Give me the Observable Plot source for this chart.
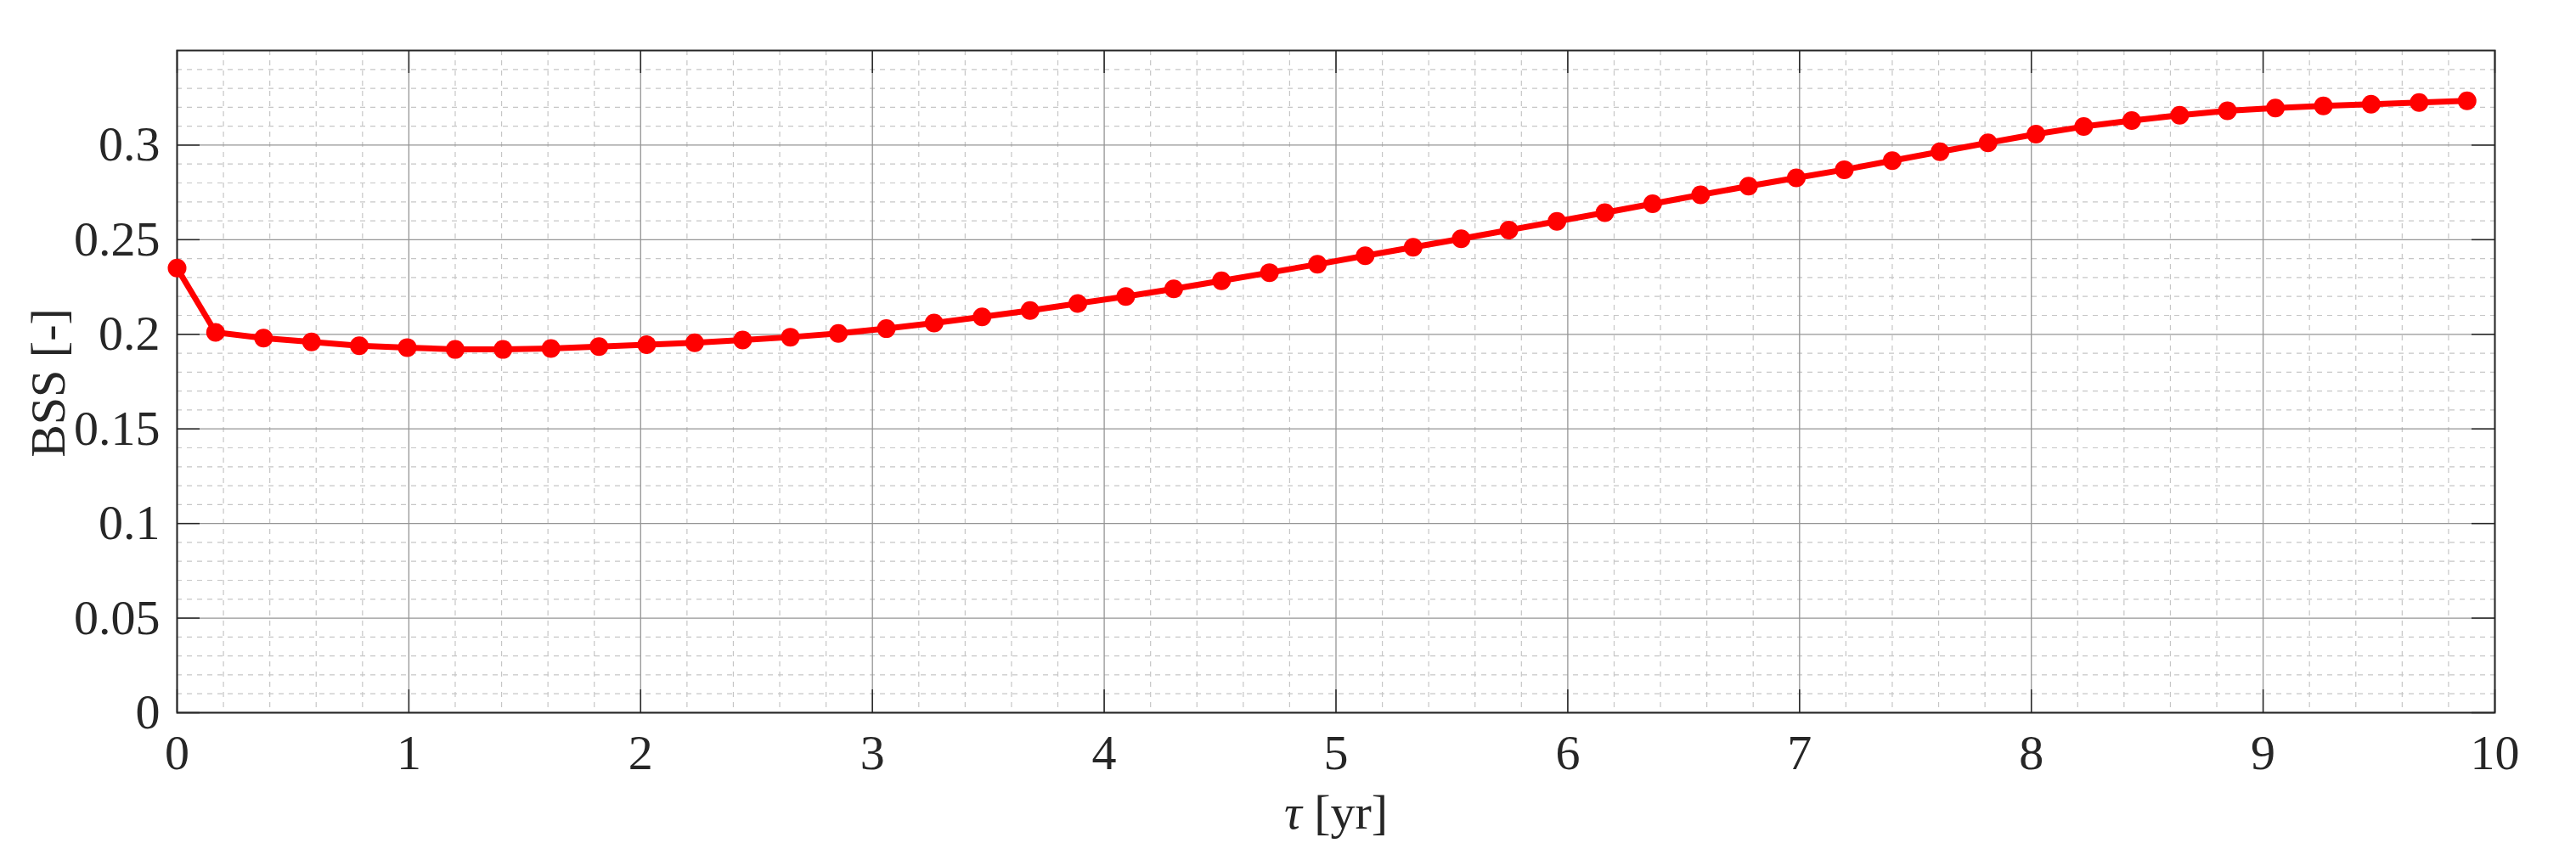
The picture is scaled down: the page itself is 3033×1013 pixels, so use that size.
<!DOCTYPE html>
<html><head><meta charset="utf-8">
<script src="https://cdn.jsdelivr.net/npm/d3@7"></script>
<script src="https://cdn.jsdelivr.net/npm/@observablehq/plot@0.6"></script>
<style>html,body{margin:0;padding:0;background:#fff;} svg text{font-family:"Liberation Serif","Times New Roman",serif;}</style>
</head><body><div id="chart"></div>
<script>
const tau = [0, 0.166, 0.373, 0.580, 0.786, 0.993, 1.200, 1.406, 1.613, 1.820, 2.026, 2.233, 2.440, 2.646, 2.853, 3.060, 3.266, 3.473, 3.680, 3.886, 4.093, 4.300, 4.506, 4.713, 4.920, 5.126, 5.333, 5.540, 5.746, 5.953, 6.160, 6.366, 6.573, 6.780, 6.986, 7.193, 7.400, 7.606, 7.813, 8.020, 8.226, 8.433, 8.640, 8.846, 9.053, 9.260, 9.466, 9.673, 9.880];
const bss = [0.235, 0.201, 0.198, 0.196, 0.194, 0.193, 0.192, 0.192, 0.1925, 0.1935, 0.1945, 0.1955, 0.197, 0.1985, 0.2005, 0.2030, 0.2060, 0.2092, 0.2126, 0.2163, 0.2200, 0.2240, 0.2283, 0.2326, 0.2370, 0.2415, 0.2460, 0.2505, 0.2551, 0.2597, 0.2643, 0.2690, 0.2737, 0.2783, 0.2827, 0.2870, 0.2918, 0.2965, 0.3012, 0.3058, 0.3098, 0.3130, 0.3158, 0.3181, 0.3196, 0.3207, 0.3216, 0.3225, 0.3234];
const xTicks = [0, 1, 2, 3, 4, 5, 6, 7, 8, 9, 10];
const xMinor = [0.2, 0.4, 0.6, 0.8, 1.2, 1.4, 1.6, 1.8, 2.2, 2.4, 2.6, 2.8, 3.2, 3.4, 3.6, 3.8, 4.2, 4.4, 4.6, 4.8, 5.2, 5.4, 5.6, 5.8, 6.2, 6.4, 6.6, 6.8, 7.2, 7.4, 7.6, 7.8, 8.2, 8.4, 8.6, 8.8, 9.2, 9.4, 9.6, 9.8];
const yTicks = [0, 0.05, 0.1, 0.15, 0.2, 0.25, 0.3];
const yMinor = [0.01, 0.02, 0.03, 0.04, 0.06, 0.07, 0.08, 0.09, 0.11, 0.12, 0.13, 0.14, 0.16, 0.17, 0.18, 0.19, 0.21, 0.22, 0.23, 0.24, 0.26, 0.27, 0.28, 0.29, 0.31, 0.32, 0.33, 0.34];
const xLabel = "τ [yr]";
const yLabel = "BSS [-]";

const data = tau.map((t, i) => ({tau: t, bss: bss[i]}));
const W = 3033, H = 1013;
const mL = 208, mR = 96, mT = 59, mB = 174;
const iw = W - mL - mR, ih = H - mT - mB;
const ink = "#262626";
const fs = 58;
const ff = "'Liberation Serif', 'Times New Roman', serif";

const chart = Plot.plot({
  width: W, height: H,
  marginLeft: mL, marginRight: mR, marginTop: mT, marginBottom: mB,
  style: {fontFamily: ff, fontSize: fs + "px", color: ink, background: "#fff"},
  x: {domain: [0, 10]},
  y: {domain: [0, 0.35]},
  marks: [
    Plot.gridX(xMinor, {stroke: "#c6c6c6", strokeOpacity: 1, strokeWidth: 1.2, strokeDasharray: "6,6"}),
    Plot.gridY(yMinor, {stroke: "#c6c6c6", strokeOpacity: 1, strokeWidth: 1.2, strokeDasharray: "6,6"}),
    Plot.gridX(xTicks, {stroke: "#959595", strokeOpacity: 1, strokeWidth: 1.3}),
    Plot.gridY(yTicks, {stroke: "#959595", strokeOpacity: 1, strokeWidth: 1.3}),
    Plot.tickX(xTicks, {x: d => d, stroke: ink, strokeWidth: 1.5, insetTop: ih - 27}),
    Plot.tickX(xTicks, {x: d => d, stroke: ink, strokeWidth: 1.5, insetBottom: ih - 27}),
    Plot.tickY(yTicks, {y: d => d, stroke: ink, strokeWidth: 1.5, insetRight: iw - 27}),
    Plot.tickY(yTicks, {y: d => d, stroke: ink, strokeWidth: 1.5, insetLeft: iw - 27}),
    Plot.frame({stroke: ink, strokeWidth: 2}),
    Plot.axisX({ticks: xTicks, tickSize: 0, tickPadding: 25, tickFormat: d => String(d), fontSize: fs, fontFamily: ff, fill: ink, label: null}),
    Plot.axisY({ticks: yTicks, tickSize: 0, tickPadding: 20, tickFormat: d => String(d), fontSize: fs, fontFamily: ff, fill: ink, label: null}),
    Plot.line(data, {x: "tau", y: "bss", stroke: "#ff0000", strokeWidth: 7}),
    Plot.dot(data, {x: "tau", y: "bss", r: 11, fill: "#ff0000", stroke: "none"}),
    Plot.text([xLabel], {text: d => d, frameAnchor: "bottom", textAnchor: "middle", dy: 136, fontSize: fs, fontFamily: ff, fill: ink}),
    Plot.text([yLabel], {text: d => d, frameAnchor: "left", textAnchor: "middle", lineAnchor: "middle", rotate: -90, fontSize: fs, fontFamily: ff, fill: ink})
  ]
});

const texts = d3.select(chart).selectAll("text");
texts.filter(function() { return this.textContent === xLabel; }).each(function() {
  const t = d3.select(this);
  t.text(null);
  t.append("tspan").attr("font-style", "italic").text("τ");
  t.append("tspan").text(" [yr]");
});
texts.filter(function() { return this.textContent === yLabel; }).each(function() {
  d3.select(this.parentNode).attr("transform", null);
  d3.select(this).attr("x", null).attr("text-anchor", "middle").attr("transform", "translate(57,451) rotate(-90)");
});

document.getElementById("chart").appendChild(chart);
</script>
</body></html>
